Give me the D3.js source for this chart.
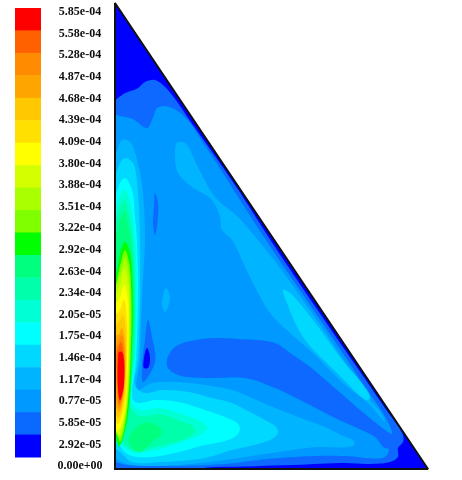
<!DOCTYPE html>
<html><head><meta charset="utf-8">
<script src="https://cdn.jsdelivr.net/npm/d3@7"></script>
<style>html,body{margin:0;padding:0;background:#fff}svg{display:block}</style>
</head><body><svg id="c" width="462" height="480"></svg>
<script>
const levelColors = ["#ff0000","#ff6000","#ff8c00","#ffa500","#ffc800","#ffe000","#ffff00","#d4ff00","#aaff00","#7fff00","#00ff00","#00ff7f","#00ffaa","#00ffd5","#00ffff","#00d8ff","#00b4ff","#0099ff","#0a69ff","#0000ff"].reverse();
const tickLabels = ["5.85e-04","5.58e-04","5.28e-04","4.87e-04","4.68e-04","4.39e-04","4.09e-04","3.80e-04","3.88e-04","3.51e-04","3.22e-04","2.92e-04","2.63e-04","2.34e-04","2.05e-05","1.75e-04","1.46e-04","1.17e-04","0.77e-05","5.85e-05","2.92e-05","0.00e+00"];
const domainOutline = [[0,466],[0,0],[313,0]];
const base1 = [[-7,357],[7,374],[23,381],[30,387],[40,389],[48,384],[57,374],[78,344],[120,284],[162,219],[230,119],[270,61],[288,34],[288,27],[283,21],[283,12],[275,7],[253,5],[230,6],[178,4],[100,2],[-7,2]];
const base2 = [[-7,352],[10,352],[18,350],[32,341],[37,349],[42,361],[48,363],[57,361],[70,352],[93,319],[151,229],[241,96],[277,37],[275,24],[270,12],[230,13],[200,13],[153,10],[110,5],[45,3],[3,6],[-7,14]];
const stripe1 = [[52,109],[60,122],[87,130],[123,130],[160,126],[175,116],[195,102],[222,79],[245,59],[270,39],[280,32],[280,22],[270,21],[260,32],[240,42],[220,51],[195,64],[160,81],[130,91],[90,91],[63,94],[53,101]];
const islandA1 = [[40,276],[43,266],[42,242],[40,234],[38,246],[39,262]];
const islandB1 = [[33,149],[37,132],[40,107],[28,87],[27,102],[30,129]];
const islandC0 = [[32,121],[35,112],[33,101],[29,101],[29,111]];
const islandD3 = [[51,181],[55,171],[50,157],[47,166]];
const left3 = [[-7,305],[1,316],[7,329],[15,327],[23,306],[28,276],[30,229],[28,189],[26,149],[25,109],[22,79],[37,86],[64,87],[90,84],[117,79],[130,74],[153,64],[183,52],[210,42],[228,33],[238,29],[240,25],[233,22],[203,22],[177,19],[143,14],[110,9],[64,4],[17,4],[3,9],[-7,19]];
const band3 = [[60,312],[62,326],[70,326],[83,302],[100,272],[123,252],[143,229],[165,201],[188,169],[222,119],[245,82],[266,56],[270,47],[255,64],[228,86],[198,116],[175,136],[155,156],[133,196],[117,229],[107,239],[105,252],[97,269],[77,282],[63,296]];
const band4 = [[168,179],[175,176],[198,149],[222,116],[255,72],[252,69],[222,96],[188,132],[172,166]];
const left4 = [[-7,285],[1,296],[5,306],[10,311],[18,306],[23,276],[25,229],[25,169],[23,109],[20,84],[29,76],[47,79],[74,77],[97,71],[117,66],[135,57],[150,49],[161,42],[163,36],[157,30],[143,25],[117,19],[90,11],[47,7],[17,7],[5,17],[-7,29]];
const left5 = [[-7,265],[1,276],[5,286],[10,291],[17,279],[20,252],[22,229],[23,169],[21,109],[18,69],[25,66],[40,69],[64,67],[90,59],[110,52],[122,46],[125,40],[121,33],[110,28],[90,24],[64,17],[37,12],[14,14],[4,24],[-7,39]];
const left6 = [[-7,250],[1,262],[5,273],[10,279],[15,268],[20,229],[21.5,169],[20,109],[15,69],[25,59],[45,61],[70,54],[85,48],[92,41],[85,34],[70,28],[45,20],[20,16],[7,24],[-7,44]];
const left7 = [[-7,235],[1,250],[5,262],[10,269],[14,254],[18,229],[20,169],[18.5,109],[14,64],[25,53],[45,55],[65,48],[76,44],[80,38],[74,32],[60,27],[40,22],[20,18],[10,25],[-7,49]];
const col8 = [[-7,225],[1,235],[5,250],[10,258],[13,244],[16,229],[19,169],[17.5,109],[13,49],[5,25],[-7,44]];
const blob8 = [[25,44],[37,46],[47,37],[37,27],[24,17],[15,24],[14,32]];
const hot9 = [[10,227],[15,216],[18,164],[16.5,109],[15.5,84],[12,49],[7,29],[4,22],[1,34],[-3,69],[-3,169],[3,204],[6,219]];
const hot10 = [[10,219],[14,207],[16.5,169],[15.5,109],[13.5,74],[10,44],[5,27],[2,37],[-3,69],[-3,159],[2,189],[6,207]];
const hot11 = [[10,211],[14,194],[15.5,159],[14.5,109],[12.5,69],[9,46],[5,31],[-3,49],[-3,169],[5,194]];
const hot12 = [[9.5,201],[13.5,184],[14.5,154],[13.5,99],[11,59],[7,41],[4,34],[-3,54],[-3,164],[5,184]];
const hot13 = [[9,184],[13,169],[13.5,139],[12.5,94],[10,61],[6,43],[3,38],[-3,59],[-3,159],[5,171]];
const hot14 = [[9,169],[12,149],[12,109],[10.5,71],[7,54],[3,45],[-3,64],[-3,149],[5,159]];
const hot15 = [[8,154],[11,134],[11,104],[9,69],[5,54],[3,51],[-3,74],[-3,139],[4,147]];
const hot16 = [[7,141],[10,124],[10,94],[8,71],[4,57],[-3,84],[-3,134],[3,134]];
const hot17 = [[7,134],[9.5,119],[9.5,94],[7,69],[4,61],[2,74],[2,124]];
const hot18 = [[6,127],[9,114],[9,89],[7,71],[4,65],[3,84],[2,117]];
const hot19 = [[4,117],[7,117],[9,109],[9,84],[7,74],[5,69],[3,79],[3,109]];

const layers = [[1,base1],[2,base2],[1,stripe1],[1,islandA1],[1,islandB1],[0,islandC0],[3,islandD3],[3,band3],[4,band4],[3,left3],[4,left4],[5,left5],[6,left6],[7,left7],[8,col8],[8,blob8],[9,hot9],[10,hot10],[11,hot11],[12,hot12],[13,hot13],[14,hot14],[15,hot15],[16,hot16],[17,hot17],[18,hot18],[19,hot19]];

const svg = d3.select("#c");
const x = d3.scaleLinear().domain([0,313]).range([115,428]);
const y = d3.scaleLinear().domain([0,466]).range([469,3]);
const defs = svg.append("defs");
defs.append("filter").attr("id","soft").append("feGaussianBlur").attr("stdDeviation",0.6);
defs.append("filter").attr("id","softT").append("feGaussianBlur").attr("stdDeviation",0.3);
const toPx = d3.line().x(d=>x(d[0])).y(d=>y(d[1]));
defs.append("clipPath").attr("id","tri").append("path").attr("d",toPx(domainOutline)+"Z");

const field = svg.append("g").attr("clip-path","url(#tri)").append("g").attr("filter","url(#soft)");
field.append("path").attr("d",toPx(domainOutline)+"Z").attr("fill",levelColors[0]);
const smooth = d3.line().x(d=>x(d[0])).y(d=>y(d[1])).curve(d3.curveCatmullRomClosed.alpha(0.5));
field.selectAll("path.band").data(layers).join("path").attr("class","band")
  .attr("d",d=>smooth(d[1])).attr("fill",d=>levelColors[d[0]]);
svg.append("path").attr("d",toPx(domainOutline)+"Z").attr("fill","none").attr("stroke","#111").attr("stroke-width",2).attr("stroke-linejoin","miter").attr("stroke-miterlimit",2);

const legendLevels = d3.range(levelColors.length).reverse();
const band = d3.scaleBand().domain(legendLevels).range([8,457]);
svg.append("g").selectAll("rect").data(legendLevels).join("rect")
  .attr("x",15).attr("width",26).attr("y",d=>band(d)).attr("height",band.bandwidth()+0.5).attr("fill",d=>levelColors[d]);
const tickPos = d3.scalePoint().domain(tickLabels).range([11,465]);
svg.append("g").attr("filter","url(#softT)").selectAll("text").data(tickLabels).join("text")
  .attr("x",80).attr("y",d=>tickPos(d)).attr("dy","0.35em").attr("text-anchor","middle")
  .attr("font-family","'Liberation Serif',serif").attr("font-weight","bold").attr("font-size",12).attr("fill","#111")
  .text(d=>d);
</script></body></html>
